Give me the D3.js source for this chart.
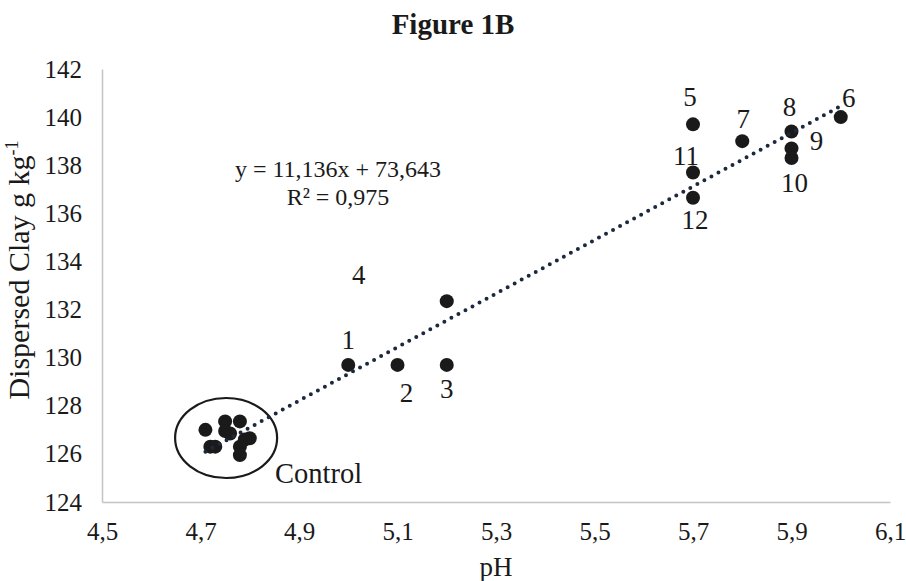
<!DOCTYPE html>
<html>
<head>
<meta charset="utf-8">
<script src="https://cdn.jsdelivr.net/npm/d3@7"></script>
<style>
  body { margin: 0; background: #fff; }
  text { font-family: "Liberation Serif", "Times New Roman", serif; fill: #1a1a1a; }
</style>
</head>
<body>
<svg width="906" height="581"></svg>
<script>
// treatment points (label, pH, dispersed clay)
let treatLabels = ["1", "2", "3", "4", "5", "6", "7", "8", "9", "10", "11", "12"];
let treatPH = [5.0, 5.1, 5.2, 5.2, 5.7, 6.0, 5.8, 5.9, 5.9, 5.9, 5.7, 5.7];
let treatClay = [129.7, 129.7, 129.7, 132.35, 139.7, 140.0, 139.0, 139.4, 138.7, 138.3, 137.7, 136.65];

// control points
let controlPH = [4.71, 4.75, 4.78, 4.75, 4.76, 4.80, 4.72, 4.73, 4.78, 4.78, 4.79];
let controlClay = [127.0, 127.35, 127.35, 126.95, 126.85, 126.65, 126.3, 126.3, 126.3, 125.95, 126.6];

// linear trend
let slope = 11.136, intercept = 73.643, r2 = "0,975";
let trendRange = [4.71, 6.0];

let xTicks = [4.5, 4.7, 4.9, 5.1, 5.3, 5.5, 5.7, 5.9, 6.1];
let yTicks = [124, 126, 128, 130, 132, 134, 136, 138, 140, 142];

// label offsets in pixels from each point
let labelOffsets = [[0, -25], [9, 28], [0, 24], [-88, -27], [-3, -28], [8, -20],
                    [1, -23], [-2, -25], [25, -8], [3, 25], [-7, -17], [2, 22]];

let svg = d3.select("svg"),
    margin = {top: 69, right: 16, bottom: 79, left: 102},
    width = svg.attr("width") - margin.left - margin.right,
    height = svg.attr("height") - margin.top - margin.bottom;

let x = d3.scaleLinear().domain([4.5, 6.1]).range([0, width]),
    y = d3.scaleLinear().domain([124, 142]).range([height, 0]);

let comma = (d) => d3.format(".1f")(d).replace(".", ",");

svg.append("text")
    .attr("x", 453)
    .attr("y", 34)
    .attr("text-anchor", "middle")
    .style("font-size", "29px")
    .style("font-weight", "bold")
    .text("Figure 1B");

let g = svg.append("g")
    .attr("transform", "translate(" + margin.left + "," + margin.top + ")");

// axes
let xAxis = g.append("g")
    .attr("transform", "translate(0," + height + ")")
    .call(d3.axisBottom(x).tickValues(xTicks).tickFormat(comma).tickSize(0).tickPadding(20));
let yAxis = g.append("g")
    .call(d3.axisLeft(y).tickValues(yTicks).tickSize(0).tickPadding(20));

[xAxis, yAxis].forEach((a) => {
  a.select(".domain").attr("stroke", "#c4c4c4").attr("stroke-width", 1.5);
  a.selectAll("text")
      .style("font-family", "Liberation Serif, serif")
      .style("font-size", "25px")
      .attr("fill", "#1a1a1a");
});

svg.append("text")
    .attr("x", margin.left + width / 2)
    .attr("y", 576)
    .attr("text-anchor", "middle")
    .style("font-size", "27px")
    .text("pH");

let yTitle = svg.append("text")
    .attr("transform", "translate(29,270) rotate(-90)")
    .attr("text-anchor", "middle")
    .style("font-size", "30px");
yTitle.append("tspan").text("Dispersed Clay g kg");
yTitle.append("tspan").attr("dy", -11).style("font-size", "18px").text("-1");

// control ellipse
g.append("ellipse")
    .attr("cx", x(4.752))
    .attr("cy", y(126.66))
    .attr("rx", 51)
    .attr("ry", 40)
    .attr("fill", "none")
    .attr("stroke", "#1a1a1a")
    .attr("stroke-width", 2.2);

g.append("text")
    .attr("x", x(4.752) + 49)
    .attr("y", y(126.66) + 45)
    .style("font-size", "28.5px")
    .text("Control");

// points
let control = controlPH.map((p, i) => ({ph: p, clay: controlClay[i]}));
let treat = treatPH.map((p, i) => ({ph: p, clay: treatClay[i], label: treatLabels[i], off: labelOffsets[i]}));

g.selectAll(".ctrl")
  .data(control)
  .enter().append("circle")
    .attr("class", "ctrl")
    .attr("cx", (d) => x(d.ph))
    .attr("cy", (d) => y(d.clay))
    .attr("r", 7)
    .attr("fill", "#1a1a1a");

g.selectAll(".pt")
  .data(treat)
  .enter().append("circle")
    .attr("class", "pt")
    .attr("cx", (d) => x(d.ph))
    .attr("cy", (d) => y(d.clay))
    .attr("r", 7)
    .attr("fill", "#1a1a1a");

// trendline
g.append("line")
    .attr("x1", x(trendRange[0]))
    .attr("y1", y(slope * trendRange[0] + intercept))
    .attr("x2", x(trendRange[1]))
    .attr("y2", y(slope * trendRange[1] + intercept))
    .attr("stroke", "#1c2840")
    .attr("stroke-width", 4)
    .attr("stroke-linecap", "round")
    .attr("stroke-dasharray", "0 8");

g.selectAll(".lbl")
  .data(treat)
  .enter().append("text")
    .attr("class", "lbl")
    .attr("x", (d) => x(d.ph) + d.off[0])
    .attr("y", (d) => y(d.clay) + d.off[1])
    .attr("dy", "0.35em")
    .attr("text-anchor", "middle")
    .style("font-size", "27px")
    .text((d) => d.label);

// equation
let eq = g.append("text")
    .attr("text-anchor", "middle")
    .style("font-size", "24px");
eq.append("tspan")
    .attr("x", 338 - margin.left)
    .attr("y", 177 - margin.top)
    .text("y = " + String(slope).replace(".", ",") + "x + " + String(intercept).replace(".", ","));
eq.append("tspan")
    .attr("x", 338 - margin.left)
    .attr("y", 205 - margin.top)
    .text("R² = " + r2);
</script>
</body>
</html>
